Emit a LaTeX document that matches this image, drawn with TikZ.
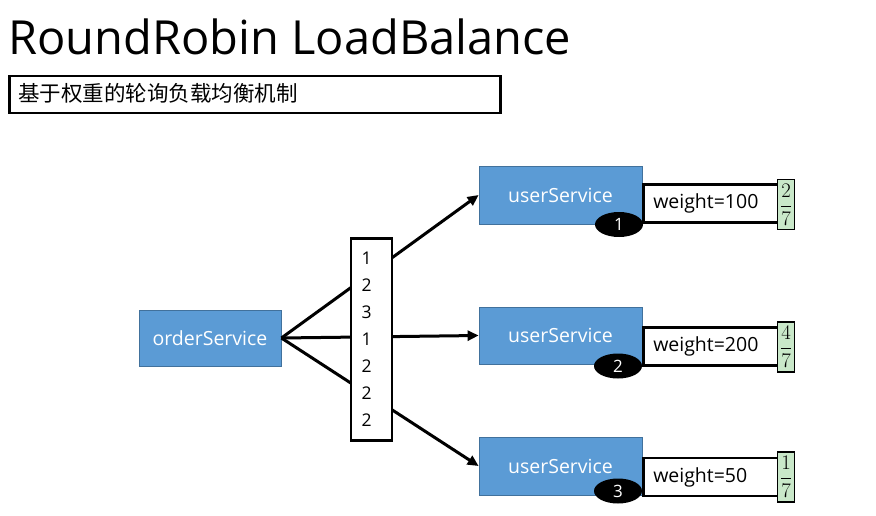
\documentclass[tikz,border=0pt]{standalone}
\usepackage{fontspec}
\setmainfont{Open Sans}
\newfontfamily\cjk{Noto Sans CJK SC}
\usetikzlibrary{arrows.meta,shapes.geometric}
\definecolor{svc}{HTML}{5B9BD5}
\definecolor{svcb}{HTML}{41719C}
\definecolor{fracg}{HTML}{C9E8C9}
\tikzset{
  svcbox/.style={draw=svcb, line width=0.8pt, fill=svc, text=white, inner sep=0pt,
    font=\fontsize{19.5}{20}\selectfont},
  badge/.style={ellipse, fill=black, minimum width=48pt, minimum height=25pt, inner sep=0pt,
    text=white, font=\fontsize{17}{17}\selectfont},
  wbox/.style={draw, line width=2.5pt, fill=white, minimum height=38pt, inner xsep=10pt, inner ysep=0pt,
    text width=115pt, align=left, anchor=west, font=\fontsize{19.5}{20}\selectfont},
  fbox/.style={draw, line width=1.2pt, fill=fracg, minimum width=17pt, minimum height=50pt, inner sep=0pt,
    font=\fontsize{22}{22}\selectfont},
  conn/.style={line width=3pt, -{Triangle[length=11pt,width=10pt]}}
}
\begin{document}
\begin{tikzpicture}[x=1pt,y=-1pt]
\useasboundingbox (0,0) rectangle (876,516);
% title
\node[anchor=base west, inner sep=0pt, font=\fontsize{47}{47}\selectfont] (title) at (8,55) {RoundRobin LoadBalance};
\node[draw, line width=2.5pt, minimum width=491pt, minimum height=37pt, inner sep=0pt, anchor=north west] (subbox) at (8,75) {};
\node[anchor=west, inner sep=0pt, font=\fontsize{21.5}{22}\selectfont\cjk] (subtxt) at (18,93.5) {基于权重的轮询负载均衡机制};
% services
\node[svcbox, minimum width=142pt, minimum height=56pt] (order) at (210,338) {orderService};
\node[svcbox, minimum width=163pt, minimum height=58pt] (us1) at (560.5,195) {userService};
\node[svcbox, minimum width=163pt, minimum height=57pt] (us2) at (560.5,335.5) {userService};
\node[svcbox, minimum width=163pt, minimum height=58pt] (us3) at (560.5,466) {userService};
% connectors
\draw[conn] (order.east) -- (us1.west);
\draw[conn] (order.east) -- (us2.west);
\draw[conn] (order.east) -- (us3.west);
% list
\node[draw, line width=2.5pt, fill=white, minimum width=41pt, minimum height=202pt, inner sep=0pt,
  text width=20pt, align=left, font=\fontsize{17.5}{27}\selectfont] (list) at (371.5,339.5) {1\\2\\3\\1\\2\\2\\2};
% weights
\node[wbox] (w1) at (642,203.5) {weight=100};
\node[wbox] (w2) at (642,346.5) {weight=200};
\node[wbox] (w3) at (642,477) {weight=50};
\node[fbox] (f1) at (786,204.5) {$\displaystyle\frac{2}{7}$};
\node[fbox] (f2) at (786,347) {$\displaystyle\frac{4}{7}$};
\node[fbox] (f3) at (786,477) {$\displaystyle\frac{1}{7}$};
% badges
\node[badge] (b1) at (619,224.5) {1};
\node[badge] (b2) at (618,366) {2};
\node[badge] (b3) at (618,491) {3};
\end{tikzpicture}
\end{document}
